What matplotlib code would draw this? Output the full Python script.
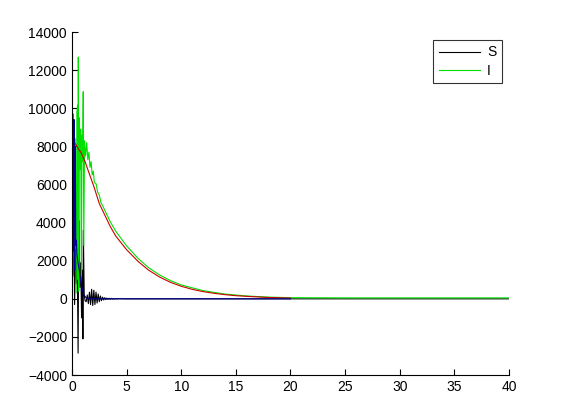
import matplotlib
matplotlib.use("Agg")
import matplotlib.pyplot as plt

# S: black, strongly oscillating near t=0
t_s = [0, 0.08, 0.16, 0.24, 0.32, 0.40, 0.48, 0.56, 0.60, 0.64, 0.72, 0.80, 0.88, 0.96, 1.00, 1.04, 1.12, 1.2,
       1.3, 1.4, 1.5, 1.6, 1.7, 1.8, 1.9, 2.0, 2.1, 2.2, 2.3, 2.4, 2.5, 2.6, 2.7, 2.8, 2.9, 3.0,
       3.1, 3.2, 3.3, 3.4, 3.5, 3.6, 3.7, 3.8, 3.9, 4.0, 4.1, 4.2, 5, 10, 20, 30, 40]
S = [9600, 1200, 5000, -300, 2600, 800, 2400, -2850, 1500, 4100, 600, 1900, -1000, 1500, -2100, 3600, 200, -100,
     -150, 200, -250, 350, -300, 500, -350, 450, -300, 350, -220, 250, -150, 150, -100, 90, -60, 60,
     -40, 40, -30, 30, -25, 25, -20, 20, -15, 15, -10, 10, 0, 0, 0, 0, 0]

# I: green
t_i = [0, 0.1, 0.2, 0.3, 0.38, 0.45, 0.52, 0.56, 0.58, 0.62, 0.68, 0.74, 0.8, 0.86, 0.92, 0.97, 1.03, 1.08,
       1.15, 1.25, 1.35, 1.45, 1.55, 1.65, 1.75, 1.85, 1.95, 2.05, 2.2, 2.35, 2.5, 2.65, 2.8, 3.0, 3.5, 4,
       5, 6, 7, 8, 9, 10, 12, 14, 16, 18, 20, 25, 30, 35, 40]
I = [0, 2500, 6200, 8400, 300, 9800, 10170, 1000, 12690, 400, 9500, 6800, 8900, 1200, 8600, 7200, 10870, 2800,
     8300, 7500, 8200, 7300, 7700, 6900, 7200, 6500, 6700, 6100, 6050, 5600, 5450, 5050, 4900, 4650, 4050, 3550,
     2780, 2150, 1640, 1260, 960, 730, 430, 250, 150, 90, 60, 50, 50, 50, 50]

# red curve
t_r = [0, 0.05, 0.1, 0.2, 0.3, 0.4, 0.6, 0.8, 1.0, 1.2, 1.5, 2, 2.5, 3, 3.5, 4, 5, 6, 7, 8, 9, 10,
       11, 12, 13, 14, 15, 16, 17, 18, 19, 20]
R = [0, 3000, 6500, 8100, 8150, 8050, 7850, 7700, 7450, 7200, 6700, 5900, 5000, 4400, 3800, 3300, 2580,
     1990, 1510, 1150, 870, 660, 500, 380, 290, 220, 165, 130, 100, 70, 55, 40]

# blue curve
t_b = [0, 0.1, 0.15, 0.2, 0.25, 0.3, 0.35, 0.4, 0.45, 0.55, 0.67, 0.8, 0.95, 1.1, 1.3, 1.6, 2, 3, 5, 10, 20]
B = [1000, 9700, 2500, 9400, 1500, 8000, 2800, 3080, 2300, 1900, 1500, 900, 500, 200, 50, 0, 0, 0, 0, 0, 0]

plt.rcParams['font.family'] = ['Liberation Sans', 'DejaVu Sans']

fig = plt.figure(figsize=(5.61, 4.2), dpi=100)
ax = fig.add_axes([0.1283, 0.107, 0.779, 0.8167])

ax.plot(t_s, S, color='black', lw=0.8, label='S')
ax.plot(t_i, I, color='#00e000', lw=0.8, label='I')
ax.plot(t_r, R, color='#cc0000', lw=0.8)
ax.plot(t_b, B, color='#000099', lw=0.8)

ax.set_xlim(0, 40)
ax.set_ylim(-4000, 14000)
ax.set_xticks(range(0, 41, 5))
ax.set_yticks(range(-4000, 14001, 2000))
ax.tick_params(direction='in', length=4.5, width=0.8, labelsize=10, colors='black')
ax.spines['top'].set_visible(False)
ax.spines['right'].set_visible(False)

leg = ax.legend(loc='upper right', bbox_to_anchor=(0.984, 0.977), borderaxespad=0,
                fancybox=False, frameon=True, edgecolor='black', fontsize=10,
                handlelength=3.0, handletextpad=0.5, borderpad=0.4, labelspacing=0.3)
leg.get_frame().set_linewidth(0.8)

fig.savefig('out.png', dpi=100)
